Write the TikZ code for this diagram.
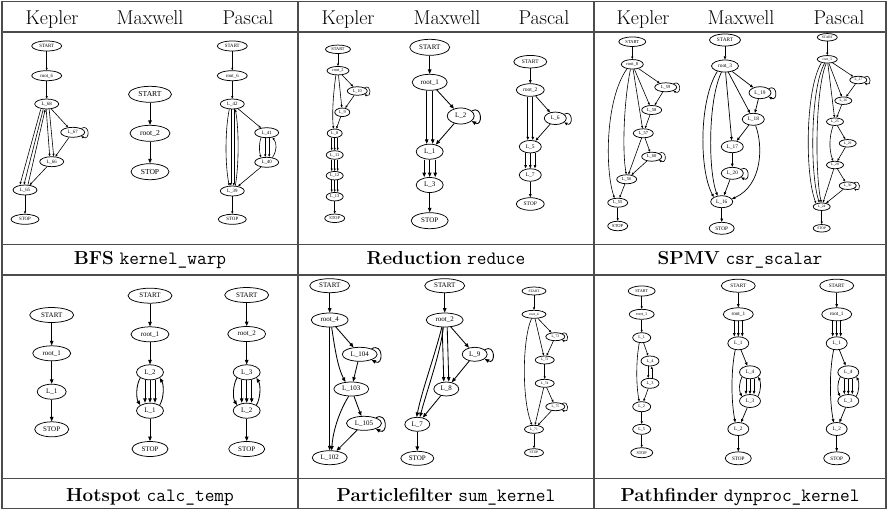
\documentclass[tikz,border=0pt]{standalone}
\usepackage{fontspec}
\newfontfamily\gvfont{Liberation Serif}
\usetikzlibrary{shapes.geometric,arrows.meta}
\newcommand{\myloop}[2]{\draw[ar] (#1.25) .. controls +(#2,-0.55*#2) and +(#2,0.55*#2) .. (#1.-25);}
\newcommand{\tripl}[3]{\draw[ar] ([xshift=-#3]#1.south) -- ([xshift=-#3]#2.north);\draw[ar] (#1.south) -- (#2.north);\draw[ar] ([xshift=#3]#1.south) -- ([xshift=#3]#2.north);}
\newcommand{\dbl}[3]{\draw[ar] ([xshift=-#3]#1.south) -- ([xshift=-#3]#2.north);\draw[ar] ([xshift=#3]#1.south) -- ([xshift=#3]#2.north);}
\tikzset{
  gn/.style n args={3}{ellipse, draw, line width=0.75pt, inner sep=0pt, minimum width=#1pt, minimum height=#2pt, font=\gvfont\fontsize{#3}{#3}\selectfont},
  aS/.style={line width=0.6pt, -{Triangle[length=2.5pt,width=2pt]}},
  aM/.style={line width=0.7pt, -{Triangle[length=3.3pt,width=2.6pt]}},
  aL/.style={line width=0.85pt, -{Triangle[length=4.5pt,width=3.5pt]}},
  tline/.style={draw=black!70, line width=1.1pt},
  hdtext/.style={anchor=base, font=\fontsize{20}{24}\selectfont},
  captext/.style={anchor=base, font=\fontsize{18.8}{22}\selectfont},
}
\begin{document}
\begin{tikzpicture}[x=1pt,y=-1pt]
\useasboundingbox (0,0) rectangle (888,511);
% table
\draw[tline] (2,1.8) rectangle (886,508.5);
\draw[tline] (2,32) -- (886,32);
\draw[tline] (2,244.5) -- (886,244.5);
\draw[tline] (2,275) -- (886,275);
\draw[tline] (2,478.5) -- (886,478.5);
\draw[tline] (298,1.8) -- (298,508.5);
\draw[tline] (594,1.8) -- (594,508.5);
% headers
\foreach \x/\t [count=\i] in {52/Kepler,150/Maxwell,248/Pascal,348/Kepler,447/Maxwell,544/Pascal,643/Kepler,741/Maxwell,839/Pascal}
  \node[hdtext] (hd\i) at (\x,25) {\t};
% captions
\node[captext] (cap1) at (150,264.3) {\textbf{BFS} \texttt{kernel\_warp}};
\node[captext] (cap2) at (446,264.3) {\textbf{Reduction} \texttt{reduce}};
\node[captext] (cap3) at (740,264.3) {\textbf{SPMV} \texttt{csr\_scalar}};
\node[captext] (cap4) at (150,501.7) {\textbf{Hotspot} \texttt{calc\_temp}};
\node[captext] (cap5) at (446,501.7) {\textbf{Particlefilter} \texttt{sum\_kernel}};
\node[captext] (cap6) at (740,501.7) {\textbf{Pathfinder} \texttt{dynproc\_kernel}};

% ---- G1 BFS Kepler
\begin{scope}[nw/.style={gn={30}{10}{4.9}}, nl/.style={gn={24}{10}{4.9}}, ar/.style={aS}]
\node[nw] (a1) at (46.7,46) {START};
\node[nw] (a2) at (46.7,75.7) {root\_6};
\node[nl] (a3) at (46.7,104) {L\_68};
\node[nl] (a4) at (72.7,132.3) {L\_67};
\node[nl] (a5) at (51.7,161.7) {L\_66};
\node[nl] (a6) at (25,190) {L\_65};
\node[nw, minimum width=28pt] (a7) at (25,219.3) {STOP};
\draw[ar] (a1) -- (a2);
\draw[ar] (a2) -- (a3);
\draw[ar] (a3) -- (a4);
\myloop{a4}{9}
\draw[ar] (a4) -- (a5);
\draw[ar] ([xshift=-0.5]a3.south) -- ([xshift=-2]a5.north);
\draw[ar] ([xshift=2.5]a3.south) -- ([xshift=2]a5.north);
\draw[ar] ([xshift=-6]a3.south) -- ([xshift=-5]a6.north);
\draw[ar] ([xshift=-3.5]a3.south) -- ([xshift=-1]a6.north);
\draw[ar] ([xshift=3]a6.north) -- ([xshift=-1.5]a3.south);
\draw[ar] (a5) -- (a6);
\draw[ar] (a6) -- (a7);
\end{scope}

% ---- G2 BFS Maxwell
\begin{scope}[nw/.style={gn={43}{16}{7.6}}, ar/.style={aL}]
\node[nw] (b1) at (150,94.3) {START};
\node[nw, minimum width=40pt] (b2) at (150,133.3) {root\_2};
\node[nw, minimum width=38pt] (b3) at (150,171.7) {STOP};
\draw[ar] (b1) -- (b2);
\draw[ar] (b2) -- (b3);
\end{scope}

% ---- G3 BFS Pascal
\begin{scope}[nw/.style={gn={30}{10}{4.9}}, nl/.style={gn={24}{10}{4.9}}, ar/.style={aS}]
\node[nw] (c1) at (232.3,46) {START};
\node[nw] (c2) at (232.3,75.7) {root\_6};
\node[nl] (c3) at (232.3,104) {L\_42};
\node[nl] (c4) at (266.7,132.7) {L\_41};
\node[nl] (c5) at (266.7,162.3) {L\_40};
\node[nl] (c6) at (232.3,191) {L\_39};
\node[nw, minimum width=28pt] (c7) at (232.3,219.3) {STOP};
\draw[ar] (c1) -- (c2);
\draw[ar] (c2) -- (c3);
\draw[ar] (c3) -- (c4);
\draw[ar] (c4.-140) .. controls (259,143) and (259,151) .. (c5.140);
\draw[ar] ([xshift=-1.5]c4.south) -- ([xshift=-1.5]c5.north);
\draw[ar] ([xshift=2.5]c4.south) -- ([xshift=2.5]c5.north);
\draw[ar] (c5.40) .. controls (277,151) and (277,143) .. (c4.-40);
\draw[ar] (c5) -- (c6);
\draw[ar] (c3.-120) .. controls (225,130) and (225,165) .. (c6.120);
\draw[ar] ([xshift=-1.5]c3.south) -- ([xshift=-1.5]c6.north);
\draw[ar] ([xshift=1.5]c3.south) -- ([xshift=1.5]c6.north);
\draw[ar] (c6.60) .. controls (239,165) and (239,130) .. (c3.-60);
\draw[ar] (c6) -- (c7);
\end{scope}

% ---- G4 Reduction Kepler
\begin{scope}[nw/.style={gn={22}{8.5}{4.3}}, nl/.style={gn={17}{8.5}{4.3}}, ar/.style={aS}]
\node[nw, minimum width=25pt] (d1) at (338,49.3) {START};
\node[nw] (d2) at (338,70.7) {root\_2};
\node[nl, minimum width=20pt] (d3) at (357.3,91) {L\_10};
\node[nl, minimum width=15pt] (d4) at (342.3,112.3) {L\_9};
\node[nl, minimum width=15pt] (d5) at (334.7,133.3) {L\_8};
\node[nl] (d6) at (334.7,155) {L\_11};
\node[nl] (d7) at (334.7,175.7) {L\_12};
\node[nl] (d8) at (334.7,196.7) {L\_13};
\node[nw, minimum width=20pt] (d9) at (334.7,218.3) {STOP};
\draw[ar] (d1) -- (d2);
\draw[ar] (d2) -- (d3);
\myloop{d3}{7}
\draw[ar] (d2) -- (d4);
\draw[ar] (d3) -- (d4);
\draw[ar] (d2.-115) .. controls (333,95) and (332,115) .. (d5.105);
\draw[ar] (d4) -- (d5);
\tripl{d5}{d6}{3}
\tripl{d6}{d7}{3}
\tripl{d7}{d8}{3}
\draw[ar] (d8) -- (d9);
\end{scope}

% ---- G5 Reduction Maxwell
\begin{scope}[nw/.style={gn={40}{16}{7}}, nl/.style={gn={27}{15}{7}}, ar/.style={aL}]
\node[nw] (e1) at (429.7,47.3) {START};
\node[nw, minimum width=35pt] (e2) at (429.7,82.3) {root\_1};
\node[nl, minimum height=16pt] (e3) at (460.7,116) {L\_2};
\node[nl] (e4) at (429.7,151.7) {L\_1};
\node[nl] (e5) at (429.7,185) {L\_3};
\node[nw, minimum width=37pt] (e6) at (429.7,220.7) {STOP};
\draw[ar] (e1) -- (e2);
\draw[ar] (e2) -- (e3);
\myloop{e3}{11}
\dbl{e2}{e4}{3}
\draw[ar] (e3) -- (e4);
\tripl{e4}{e5}{5.5}
\draw[ar] (e5) -- (e6);
\end{scope}

% ---- G6 Reduction Pascal
\begin{scope}[nw/.style={gn={28}{12.5}{5.5}}, nl/.style={gn={22}{12.5}{5.5}}, ar/.style={aM}]
\node[nw, minimum width=33pt] (f1) at (530.3,61.7) {START};
\node[nw] (f2) at (530.3,90) {root\_2};
\node[nl] (f3) at (555.3,118.3) {L\_6};
\node[nl] (f4) at (530.3,146.7) {L\_5};
\node[nl] (f5) at (530.3,175) {L\_7};
\node[nw] (f6) at (530.3,204) {STOP};
\draw[ar] (f1) -- (f2);
\draw[ar] (f2) -- (f3);
\myloop{f3}{9}
\dbl{f2}{f4}{2.5}
\draw[ar] (f3) -- (f4);
\tripl{f4}{f5}{4.7}
\draw[ar] (f5) -- (f6);
\end{scope}

% ---- G7 SPMV Kepler
\begin{scope}[nw/.style={gn={22}{9.5}{4.5}}, nl/.style={gn={20}{9}{4.5}}, ar/.style={aS}]
\node[nw, minimum width=27pt] (g1) at (632.3,41.7) {START};
\node[nw] (g2) at (632.3,64.3) {root\_8};
\node[nl, minimum width=22pt] (g3) at (665.7,87.3) {L\_59};
\node[nl] (g4) at (651.7,110) {L\_58};
\node[nl] (g5) at (643.3,133.3) {L\_57};
\node[nl] (g6) at (651.7,156.7) {L\_60};
\node[nl] (g7) at (626.7,179.3) {L\_56};
\node[nl] (g8) at (617.7,202.7) {L\_55};
\node[nw, minimum width=20pt] (g9) at (617.7,226) {STOP};
\draw[ar] (g1) -- (g2);
\draw[ar] (g2) -- (g3);
\myloop{g3}{8}
\draw[ar] (g3) -- (g4);
\draw[ar] (g2) -- (g4);
\draw[ar] (g2) -- (g5);
\draw[ar] (g4) -- (g5);
\draw[ar] (g5) -- (g6);
\myloop{g6}{8}
\draw[ar] (g5) -- (g7);
\draw[ar] (g6) -- (g7);
\draw[ar] (g2.-110) .. controls (624,100) and (622,150) .. (g7.95);
\draw[ar] (g2.-140) .. controls (605,100) and (605,170) .. (g8.125);
\draw[ar] (g7) -- (g8);
\draw[ar] (g8) -- (g9);
\end{scope}

% ---- G8 SPMV Maxwell
\begin{scope}[nw/.style={gn={27}{12}{5.3}}, nl/.style={gn={22}{12}{5.3}}, ar/.style={aM}]
\node[nw, minimum width=31pt] (h1) at (725,40) {START};
\node[nw] (h2) at (725,66) {root\_3};
\node[nl] (h3) at (760,92.7) {L\_19};
\node[nl] (h4) at (753.3,119.3) {L\_18};
\node[nl] (h5) at (732.3,146.7) {L\_17};
\node[nl] (h6) at (732.3,173.3) {L\_20};
\node[nl] (h7) at (721.7,201.7) {L\_16};
\node[nw, minimum width=25pt] (h8) at (721.7,228.3) {STOP};
\draw[ar] (h1) -- (h2);
\draw[ar] (h2) -- (h3);
\myloop{h3}{9}
\draw[ar] (h3) -- (h4);
\draw[ar] (h2) -- (h4);
\draw[ar] (h2) -- (h5);
\draw[ar] (h4) -- (h5);
\draw[ar] (h5) -- (h6);
\myloop{h6}{9}
\draw[ar] (h6) -- (h7);
\draw[ar] (h4.-70) .. controls (763,145) and (763,185) .. (h7.15);
\draw[ar] (h2.-145) .. controls (699,100) and (699,170) .. (h7.150);
\draw[ar] (h2.-120) .. controls (708,100) and (708,170) .. (h7.125);
\draw[ar] (h7) -- (h8);
\end{scope}

% ---- G9 SPMV Pascal
\begin{scope}[nw/.style={gn={20}{7.5}{3.6}}, nl/.style={gn={17}{7.5}{3.6}}, ar/.style={aS}]
\node[nw] (i1) at (827.3,37.3) {START};
\node[nw] (i2) at (827.3,59.3) {root\_3};
\node[nl] (i3) at (858.3,80) {L\_27};
\node[nl] (i4) at (843.3,100.7) {L\_26};
\node[nl] (i5) at (835,121.7) {L\_25};
\node[nl] (i6) at (847.7,143.3) {L\_29};
\node[nl] (i7) at (835,165) {L\_28};
\node[nl] (i8) at (847.7,185.7) {L\_30};
\node[nl] (i9) at (821.7,206.7) {L\_24};
\node[nl] (i10) at (821.7,228.3) {STOP};
\draw[ar] (i1) -- (i2);
\draw[ar] (i2) -- (i3);
\myloop{i3}{7}
\draw[ar] (i3) -- (i4);
\draw[ar] (i2) -- (i4);
\draw[ar] (i2) -- (i5);
\draw[ar] (i4) -- (i5);
\draw[ar] (i5) -- (i6);
\draw[ar] (i6) -- (i7);
\draw[ar] (i5.-115) .. controls (829,137) and (829,150) .. (i7.115);
\draw[ar] (i7) -- (i8);
\myloop{i8}{7}
\draw[ar] (i7) -- (i9);
\draw[ar] (i8) -- (i9);
\draw[ar] (i2.-150) .. controls (805,90) and (805,175) .. (i9.150);
\draw[ar] (i2.-125) .. controls (810,90) and (810,175) .. (i9.120);
\draw[ar] (i2.-105) .. controls (815,90) and (815,175) .. (i9.95);
\draw[ar] (i9) -- (i10);
\end{scope}

% ---- G10 Hotspot Kepler
\begin{scope}[nw/.style={gn={44}{15}{7}}, ar/.style={aL}]
\node[nw] (j1) at (51.7,315) {START};
\node[nw, minimum width=38pt] (j2) at (51.7,353.3) {root\_1};
\node[nw, minimum width=29pt] (j3) at (51.7,391.7) {L\_1};
\node[nw, minimum width=34pt] (j4) at (51.7,429.3) {STOP};
\draw[ar] (j1) -- (j2);
\draw[ar] (j2) -- (j3);
\draw[ar] (j3) -- (j4);
\end{scope}

% ---- G11 Hotspot Maxwell
\begin{scope}[nw/.style={gn={44}{15}{7}}, nl/.style={gn={27}{15}{7}}, ar/.style={aL}]
\node[nw] (k1) at (150,295.7) {START};
\node[nw, minimum width=38pt] (k2) at (150,334.3) {root\_1};
\node[nl] (k3) at (150,372.3) {L\_2};
\node[nl] (k4) at (150,410.7) {L\_1};
\node[nw, minimum width=36pt] (k5) at (150,449) {STOP};
\draw[ar] (k1) -- (k2);
\draw[ar] (k2) -- (k3);
\tripl{k3}{k4}{5}
\draw[ar] (k3.-150) .. controls (136,385) and (136,398) .. (k4.150);
\draw[ar] (k4.30) .. controls (164,398) and (164,385) .. (k3.-30);
\draw[ar] (k4) -- (k5);
\end{scope}

% ---- G12 Hotspot Pascal
\begin{scope}[nw/.style={gn={44}{15}{7}}, nl/.style={gn={27}{15}{7}}, ar/.style={aL}]
\node[nw] (l1) at (246.7,295) {START};
\node[nw, minimum width=38pt] (l2) at (246.7,334) {root\_2};
\node[nl] (l3) at (246.7,372.3) {L\_3};
\node[nl] (l4) at (246.7,410.7) {L\_2};
\node[nw, minimum width=36pt] (l5) at (246.7,449) {STOP};
\draw[ar] (l1) -- (l2);
\draw[ar] (l2) -- (l3);
\tripl{l3}{l4}{5}
\draw[ar] (l3.-150) .. controls (232.7,385) and (232.7,398) .. (l4.150);
\draw[ar] (l4.30) .. controls (260.7,398) and (260.7,385) .. (l3.-30);
\draw[ar] (l4) -- (l5);
\end{scope}

% ---- G13 Particlefilter Kepler
\begin{scope}[nw/.style={gn={40}{14}{7}}, nl/.style={gn={35}{14}{7}}, ar/.style={aL}]
\node[nw] (m1) at (329.7,285.7) {START};
\node[nw, minimum width=37pt] (m2) at (329.7,320) {root\_4};
\node[nl] (m3) at (359.7,354.3) {L\_104};
\node[nl] (m4) at (351.3,389) {L\_103};
\node[nl] (m5) at (364,423.3) {L\_105};
\node[nl] (m6) at (329.7,457.7) {L\_102};
\draw[ar] (m1) -- (m2);
\draw[ar] (m2) -- (m3);
\myloop{m3}{12}
\draw[ar] (m2.-75) .. controls (335,350) and (338,368) .. (m4.130);
\draw[ar] (m3) -- (m4);
\draw[ar] (m2) -- (m6);
\draw[ar] (m4) -- (m5);
\myloop{m5}{12}
\draw[ar] (m4.-110) .. controls (340,410) and (333,430) .. (m6.75);
\draw[ar] (m5) -- (m6);
\end{scope}

% ---- G14 Particlefilter Maxwell
\begin{scope}[nw/.style={gn={40}{14}{7}}, nl/.style={gn={25}{14}{7}}, ar/.style={aL}]
\node[nw] (n1) at (444.7,285.7) {START};
\node[nw, minimum width=37pt] (n2) at (444.7,320) {root\_2};
\node[nl] (n3) at (474.7,354.3) {L\_9};
\node[nl] (n4) at (446.3,389) {L\_8};
\node[nl] (n5) at (417.3,424.3) {L\_7};
\node[nw, minimum width=33pt] (n6) at (417.3,458.3) {STOP};
\draw[ar] (n1) -- (n2);
\draw[ar] (n2) -- (n3);
\myloop{n3}{11}
\dbl{n2}{n4}{2.5}
\draw[ar] (n3) -- (n4);
\draw[ar] (n2.-112) .. controls (435,355) and (422,390) .. (n5.95);
\draw[ar] (n2.-100) .. controls (440,355) and (427,390) .. (n5.70);
\draw[ar] (n4) -- (n5);
\draw[ar] (n5) -- (n6);
\end{scope}

% ---- G15 Particlefilter Pascal
\begin{scope}[nw/.style={gn={24}{8}{3.6}}, nl/.style={gn={19}{8}{3.6}}, ar/.style={aS}]
\node[nw] (o1) at (534,291) {START};
\node[nw] (o2) at (534,314.3) {root\_4};
\node[nl] (o3) at (555.3,336.7) {L\_73};
\node[nl] (o4) at (544.7,360) {L\_72};
\node[nl] (o5) at (544.7,383.3) {L\_74};
\node[nl] (o6) at (555.3,406.7) {L\_75};
\node[nl] (o7) at (534,429.3) {L\_71};
\node[nl] (o8) at (534,452.7) {STOP};
\draw[ar] (o1) -- (o2);
\draw[ar] (o2) -- (o3);
\myloop{o3}{7}
\draw[ar] (o3) -- (o4);
\draw[ar] (o2) -- (o4);
\draw[ar] (o4) -- (o5);
\draw[ar] (o5) -- (o6);
\myloop{o6}{7}
\draw[ar] (o5) -- (o7);
\draw[ar] (o6) -- (o7);
\draw[ar] (o2.-120) .. controls (522,340) and (522,400) .. (o7.115);
\draw[ar] (o7) -- (o8);
\end{scope}

% ---- G16 Pathfinder Kepler
\begin{scope}[nw/.style={gn={25}{10}{4.2}}, nl/.style={gn={18}{10}{4.2}}, ar/.style={aS}]
\node[nw, minimum width=27pt] (p1) at (641.7,291) {START};
\node[nw] (p2) at (641.7,314.3) {root\_1};
\node[nl] (p3) at (641.7,337.7) {L\_1};
\node[nl] (p4) at (650,361) {L\_4};
\node[nl] (p5) at (650,383.3) {L\_3};
\node[nl] (p6) at (641.7,406.7) {L\_2};
\node[nl] (p7) at (641.7,429.3) {L\_5};
\node[nw, minimum width=22pt] (p8) at (641.7,452.7) {STOP};
\draw[ar] (p1) -- (p2);
\draw[ar] (p2) -- (p3);
\draw[ar] (p3) -- (p4);
\draw[ar] ([xshift=-1.8]p4.south) -- ([xshift=-1.8]p5.north);
\draw[ar] ([xshift=1.8]p5.north) -- ([xshift=1.8]p4.south);
\draw[ar] (p5) -- (p6);
\draw[ar] (p3.-115) .. controls (636,360) and (636,385) .. (p6.115);
\draw[ar] (p6) -- (p7);
\draw[ar] (p7) -- (p8);
\end{scope}

% ---- G17 Pathfinder Maxwell
\begin{scope}[nw/.style={gn={30}{13}{5.2}}, nl/.style={gn={21}{13}{5.2}}, ar/.style={aM}]
\node[nw, minimum width=34pt] (q1) at (738.3,285.7) {START};
\node[nw] (q2) at (738.3,314.3) {root\_1};
\node[nl] (q3) at (738.3,343.3) {L\_1};
\node[nl] (q4) at (750,372.3) {L\_4};
\node[nl] (q5) at (750,401) {L\_3};
\node[nl] (q6) at (738.3,429) {L\_2};
\node[nw, minimum width=26pt] (q7) at (738.3,458.3) {STOP};
\draw[ar] (q1) -- (q2);
\tripl{q2}{q3}{4}
\draw[ar] (q3) -- (q4);
\tripl{q4}{q5}{4}
\draw[ar] (q4.-150) .. controls (739,382) and (739,391) .. (q5.150);
\draw[ar] (q5.30) .. controls (761,391) and (761,382) .. (q4.-30);
\draw[ar] (q5) -- (q6);
\draw[ar] (q3.-115) .. controls (731,370) and (731,400) .. (q6.115);
\draw[ar] (q6) -- (q7);
\end{scope}

% ---- G18 Pathfinder Pascal
\begin{scope}[nw/.style={gn={30}{13}{5.2}}, nl/.style={gn={21}{13}{5.2}}, ar/.style={aM}]
\node[nw, minimum width=34pt] (r1) at (836.7,285.7) {START};
\node[nw] (r2) at (836.7,314.3) {root\_1};
\node[nl] (r3) at (836.7,343.3) {L\_1};
\node[nl] (r4) at (848.3,372.3) {L\_4};
\node[nl] (r5) at (848.3,401) {L\_3};
\node[nl] (r6) at (836.7,429) {L\_2};
\node[nw, minimum width=26pt] (r7) at (836.7,458.3) {STOP};
\draw[ar] (r1) -- (r2);
\tripl{r2}{r3}{4}
\draw[ar] (r3) -- (r4);
\tripl{r4}{r5}{4}
\draw[ar] (r4.-150) .. controls (837.3,382) and (837.3,391) .. (r5.150);
\draw[ar] (r5.30) .. controls (859.3,391) and (859.3,382) .. (r4.-30);
\draw[ar] (r5) -- (r6);
\draw[ar] (r3.-115) .. controls (829.4,370) and (829.4,400) .. (r6.115);
\draw[ar] (r6) -- (r7);
\end{scope}
\end{tikzpicture}
\end{document}
